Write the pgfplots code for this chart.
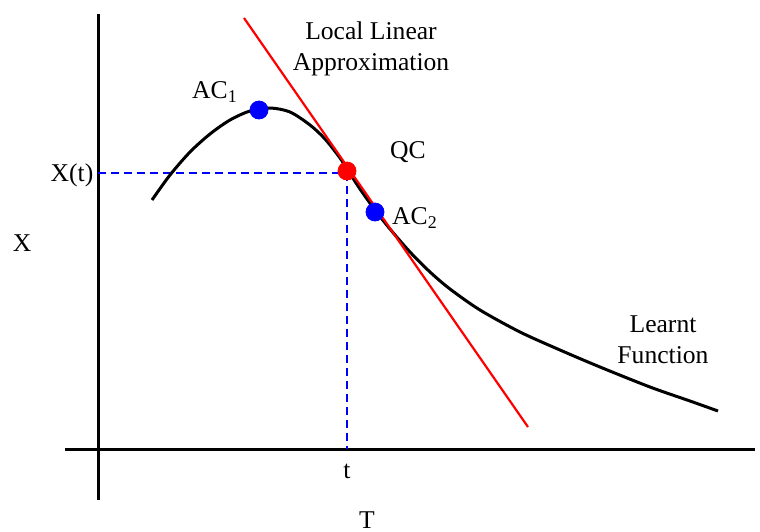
\documentclass[border=0pt]{standalone}
\usepackage{pgfplots}
\pgfplotsset{compat=1.18}
\usepackage{fontspec}
\setmainfont{Liberation Serif}
\begin{document}
\fontsize{12.8}{15.5}\selectfont
\begin{tikzpicture}
\begin{axis}[
  scale only axis, width=380pt, height=265.5pt,
  xmin=0, xmax=760, ymin=0, ymax=531, y dir=reverse,
  hide axis, clip=false,
]
% axes
\addplot[black, line width=1.5pt] coordinates {(98,14) (98,500)};
\addplot[black, line width=1.5pt] coordinates {(65,449) (755,449)};
% dashed guides
\addplot[blue, line width=1.25pt, dash pattern=on 4pt off 2.5pt] coordinates {(98,173) (347,173)};
\addplot[blue, line width=1.25pt, dash pattern=on 4pt off 2.5pt] coordinates {(347,173) (347,449)};
% learnt function
\addplot[black, line width=1.5pt, smooth, tension=0.5] coordinates {
 (152,200) (170,175) (190,152) (210,134) (230,120) (250,111) (270,108)
 (290,112) (310,125) (325,139) (340,158) (347,169) (360,189) (375,210)
 (390,229) (410,252) (430,272) (450,289) (480,310) (520,332) (560,350)
 (600,367) (650,387) (690,401) (718,411)};
% tangent
\addplot[red, line width=1.1pt] coordinates {(244,18) (528,427)};
% points
\addplot[only marks, mark=*, mark size=4.5pt, blue, mark options={draw=blue, fill=blue}] coordinates {(259,110) (375,212)};
\addplot[only marks, mark=*, mark size=4.5pt, red, mark options={draw=red, fill=red}] coordinates {(347,171)};
% labels
\node[align=center] at (axis cs:371,49) {Local Linear\\Approximation};
\node at (axis cs:215,92) {AC\textsubscript{1}};
\node at (axis cs:408,152) {QC};
\node at (axis cs:415,218) {AC\textsubscript{2}};
\node at (axis cs:72,175) {X(t)};
\node at (axis cs:22,243) {X};
\node at (axis cs:347,471) {t};
\node at (axis cs:367,520) {T};
\node[align=center] at (axis cs:663,340) {Learnt\\Function};
\end{axis}
\pgfresetboundingbox
\useasboundingbox (current axis.south west) rectangle (current axis.north east);
\end{tikzpicture}
\end{document}
